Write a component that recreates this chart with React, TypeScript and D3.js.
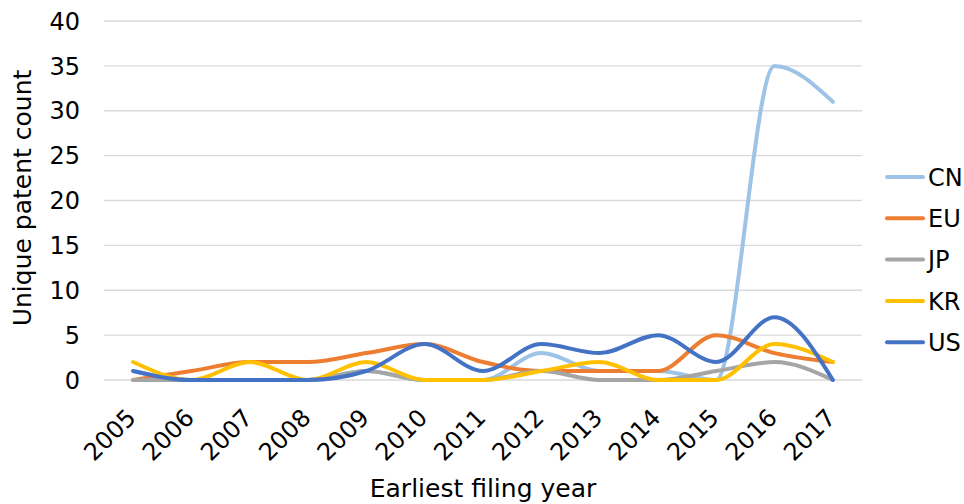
import React, { useEffect, useRef } from 'react';
import * as d3 from 'd3';

const years = ['2005', '2006', '2007', '2008', '2009', '2010', '2011', '2012', '2013', '2014', '2015', '2016', '2017'];
const cn = [1, 0, 0, 0, 1, 0, 0, 3, 1, 1, 0, 35, 31];
const eu = [0, 1, 2, 2, 3, 4, 2, 1, 1, 1, 5, 3, 2];
const jp = [0, 0, 0, 0, 1, 0, 0, 1, 0, 0, 1, 2, 0];
const kr = [2, 0, 2, 0, 2, 0, 0, 1, 2, 0, 0, 4, 2];
const us = [1, 0, 0, 0, 1, 4, 1, 4, 3, 5, 2, 7, 0];
const yTicks = [0, 5, 10, 15, 20, 25, 30, 35, 40];

const seriesNames = ['CN', 'EU', 'JP', 'KR', 'US'];
const seriesValues = [cn, eu, jp, kr, us];
const colors = ['#9DC3E6', '#ED7D31', '#A5A5A5', '#FFC000', '#4472C4'];

const App = () => {
  const svgRef = useRef<SVGSVGElement>(null);

  useEffect(() => {
    const width = 964;
    const height = 504;
    const left = 104;
    const right = 862;
    const top = 21;
    const bottom = 380;
    const font = '"DejaVu Sans", Verdana, sans-serif';
    const fs = '24px';

    d3.select(svgRef.current).selectAll('*').remove();
    const svg = d3.select(svgRef.current)
      .attr('width', width)
      .attr('height', height);

    const x = d3.scaleBand().domain(years).range([left, right]);
    const y = d3.scaleLinear().domain([0, 40]).range([bottom, top]);

    // gridlines
    svg.append('g')
      .selectAll('line')
      .data(yTicks)
      .enter()
      .append('line')
      .attr('x1', left)
      .attr('x2', right)
      .attr('y1', d => y(d))
      .attr('y2', d => y(d))
      .attr('stroke', '#D9D9D9')
      .attr('stroke-width', 1.3);

    // y tick labels
    svg.append('g')
      .selectAll('text')
      .data(yTicks)
      .enter()
      .append('text')
      .attr('x', 80)
      .attr('y', d => y(d))
      .attr('dy', '0.36em')
      .attr('text-anchor', 'end')
      .attr('font-family', font)
      .attr('font-size', fs)
      .attr('fill', '#000')
      .text(d => d);

    // x tick labels, rotated
    svg.append('g')
      .selectAll('text')
      .data(years)
      .enter()
      .append('text')
      .attr('transform', d => `translate(${x(d)! + x.bandwidth() / 2 - 2}, 413) rotate(-45)`)
      .attr('text-anchor', 'end')
      .attr('dy', '0.36em')
      .attr('font-family', font)
      .attr('font-size', fs)
      .attr('fill', '#000')
      .text(d => d);

    // axis titles
    svg.append('text')
      .attr('x', 483)
      .attr('y', 497)
      .attr('text-anchor', 'middle')
      .attr('font-family', font)
      .attr('font-size', '25px')
      .attr('fill', '#000')
      .text('Earliest filing year');

    svg.append('text')
      .attr('transform', `translate(31, 198) rotate(-90)`)
      .attr('text-anchor', 'middle')
      .attr('font-family', font)
      .attr('font-size', '25px')
      .attr('fill', '#000')
      .text('Unique patent count');

    // smoothed lines
    const line = d3.line<number>()
      .x((_, i) => x(years[i])! + x.bandwidth() / 2)
      .y(d => y(d))
      .curve(d3.curveMonotoneX);

    seriesValues.forEach((vals, i) => {
      svg.append('path')
        .datum(vals)
        .attr('d', line)
        .attr('fill', 'none')
        .attr('stroke', colors[i])
        .attr('stroke-width', 4)
        .attr('stroke-linecap', 'round')
        .attr('stroke-linejoin', 'round');
    });

    // legend
    const legend = svg.append('g');
    seriesNames.forEach((name, i) => {
      const ly = 177 + i * 41.3;
      legend.append('line')
        .attr('x1', 887)
        .attr('x2', 923)
        .attr('y1', ly)
        .attr('y2', ly)
        .attr('stroke', colors[i])
        .attr('stroke-width', 4)
        .attr('stroke-linecap', 'round');
      legend.append('text')
        .attr('x', 928)
        .attr('y', ly)
        .attr('dy', '0.36em')
        .attr('font-family', font)
        .attr('font-size', '24px')
        .attr('fill', '#000')
        .text(name);
    });
  }, []);

  return (
    <div style={{ position: 'absolute', left: 0, top: 0 }}>
      <svg ref={svgRef} style={{ display: 'block' }} />
    </div>
  );
};

export default App;
